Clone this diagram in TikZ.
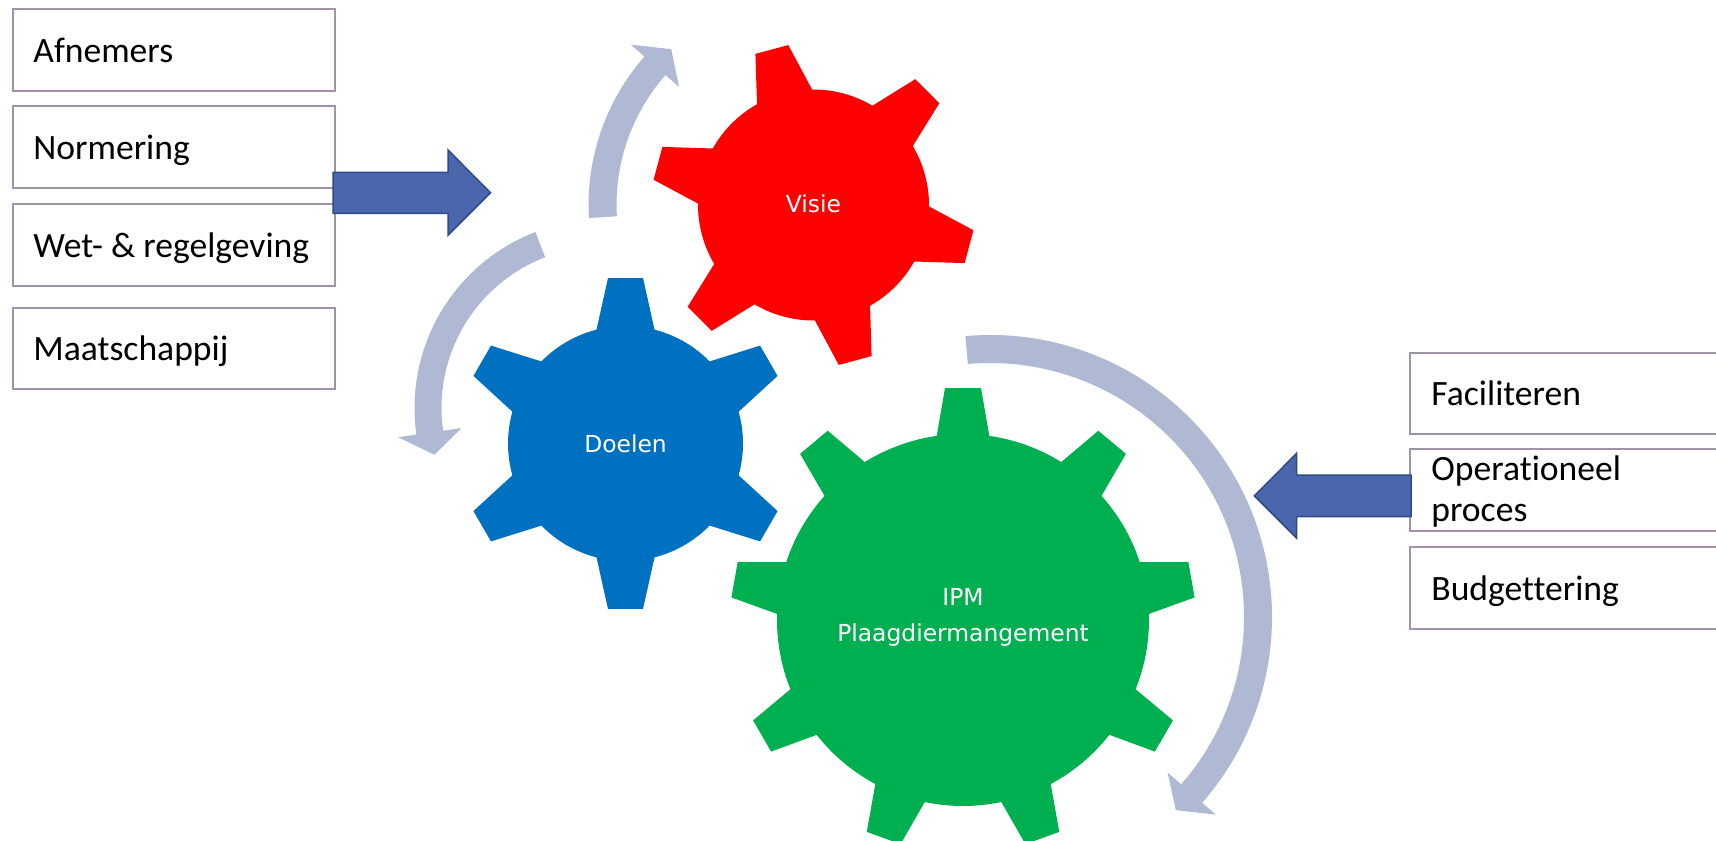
\documentclass[tikz,border=0pt]{standalone}
\usepackage{fontspec}
\setmainfont{Carlito}[Ligatures=NoCommon]
\newfontfamily\gearfont{DejaVu Sans}
\definecolor{gred}{HTML}{FF0000}
\definecolor{gblue}{HTML}{0070C0}
\definecolor{ggreen}{HTML}{00B050}
\definecolor{arcc}{HTML}{B0B9D3}
\definecolor{barrow}{HTML}{4A66AC}
\definecolor{barrowd}{HTML}{2F4B86}
\definecolor{boxb}{HTML}{A093A8}
% gear: cx cy n start R db Rc dt color
\newcommand\gearshape[9]{%
  \begin{scope}[shift={(#1,#2)}]
  \fill[#9] ({#4-#6}:#5)
    \foreach \k in {1,...,#3}{
      -- ({#4+(\k-1)*360/#3-#8}:#7)
      -- ({#4+(\k-1)*360/#3+#8}:#7)
      -- ({#4+(\k-1)*360/#3+#6}:#5)
      arc[start angle={#4+(\k-1)*360/#3+#6}, end angle={#4+\k*360/#3-#6}, radius=#5]
    } -- cycle;
  \end{scope}}
% circular arrow: cx cy rc w ttail thead dtip hw
\newcommand\circarrow[8]{%
  \begin{scope}[shift={(#1,#2)}]
  \fill[arcc] ({#5}:{#3+#4/2}) arc[start angle={#5}, end angle={#6}, radius={#3+#4/2}]
    -- ({#6}:{#3+#8}) -- ({#6+#7}:{#3}) -- ({#6}:{#3-#8}) -- ({#6}:{#3-#4/2})
    arc[start angle={#6}, end angle={#5}, radius={#3-#4/2}] -- cycle;
  \end{scope}}
\tikzset{
  lbox/.style={draw=boxb, line width=1pt, fill=white, minimum width=161pt, minimum height=40.75pt, inner sep=0pt},
  rbox/.style={draw=boxb, line width=1pt, fill=white, minimum width=160pt, minimum height=40.75pt, inner sep=0pt},
  btxt/.style={anchor=base west, inner sep=0pt, font=\fontsize{17.8}{21.4}\selectfont},
  gtxt/.style={anchor=base, inner sep=0pt, text=white, font=\gearfont\fontsize{11.7}{14}\selectfont},
  blockarrow/.style={fill=barrow, draw=barrowd, line width=0.75pt, line join=miter}
}
\begin{document}
\begin{tikzpicture}[x=0.5pt, y=0.5pt]
\useasboundingbox (0,0) rectangle (1716,-840);
\clip (0,0) rectangle (1716,-840);
\fill[white] (0,0) rectangle (1716,-840);

% gears
\gearshape{813.5}{-205}{6}{-15}{115.5}{14.3}{161.9}{6.03}{gred}
\gearshape{625.5}{-443.5}{6}{30}{117.5}{14.3}{166.4}{6.04}{gblue}
\gearshape{963}{-620}{9}{10}{186}{8.13}{232.7}{4.44}{ggreen}

% circular arrows
\circarrow{813.5}{-205}{211}{28}{183.3}{138.7}{-6.3}{32}
\circarrow{603}{-408}{175}{27}{111}{188.1}{7.4}{32}
\circarrow{990}{-617}{268}{28}{95}{-41.2}{-4.9}{32}

% gear labels
\node[gtxt] (visie) at (813.5,-212.7) {Visie};
\node[gtxt] (doelen) at (625.5,-452.7) {Doelen};
\node[gtxt] (ipm) at (963,-605) {IPM};
\node[gtxt] (plaag) at (963,-641) {Plaagdiermangement};

% left boxes
\node[lbox] (b1) at (174,-50) {};
\node[lbox] (b2) at (174,-146.9) {};
\node[lbox] (b3) at (174,-245) {};
\node[lbox] (b4) at (174,-348.5) {};
\node[btxt] (t1) at (33,-62.3) {Afnemers};
\node[btxt] (t2) at (33,-159.2) {Normering};
\node[btxt] (t3) at (33,-257.3) {Wet- \& regelgeving};
\node[btxt] (t4) at (33,-360.8) {Maatschappij};

% right boxes
\node[rbox] (r1) at (1570,-393.4) {};
\node[rbox] (r2) at (1570,-490) {};
\node[rbox] (r3) at (1570,-588) {};
\node[btxt] (s1) at (1431,-405.7) {Faciliteren};
\node[btxt] (s2a) at (1431,-480) {Operationeel};
\node[btxt] (s2b) at (1431,-521.7) {proces};
\node[btxt] (s3) at (1431,-600.3) {Budgettering};

% block arrows
\draw[blockarrow] (333,-172.3) -- (448,-172.3) -- (448,-150) -- (490.5,-192.7) -- (448,-235.3) -- (448,-213.3) -- (333,-213.3) -- cycle;
\draw[blockarrow] (1411,-475) -- (1296.7,-475) -- (1296.7,-453.3) -- (1254.3,-495.8) -- (1296.7,-538.3) -- (1296.7,-516.7) -- (1411,-516.7) -- cycle;
\end{tikzpicture}
\end{document}
